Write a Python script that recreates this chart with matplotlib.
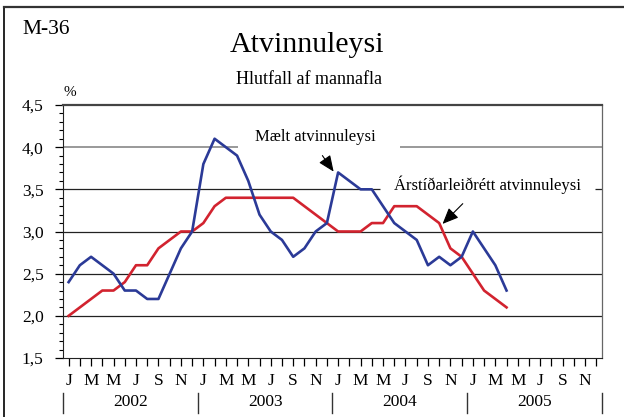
import matplotlib
matplotlib.use("Agg")
import matplotlib.pyplot as plt
from matplotlib.lines import Line2D
from matplotlib.transforms import blended_transform_factory

plt.rcParams["font.family"] = ["Liberation Serif", "DejaVu Serif"]

# Monthly values, Jan 2002 - Apr 2005
measured = [2.4, 2.6, 2.7, 2.6, 2.5, 2.3, 2.3, 2.2, 2.2, 2.5, 2.8, 3.0,
            3.8, 4.1, 4.0, 3.9, 3.6, 3.2, 3.0, 2.9, 2.7, 2.8, 3.0, 3.1,
            3.7, 3.6, 3.5, 3.5, 3.3, 3.1, 3.0, 2.9, 2.6, 2.7, 2.6, 2.7,
            3.0, 2.8, 2.6, 2.3]
adjusted = [2.0, 2.1, 2.2, 2.3, 2.3, 2.4, 2.6, 2.6, 2.8, 2.9, 3.0, 3.0,
            3.1, 3.3, 3.4, 3.4, 3.4, 3.4, 3.4, 3.4, 3.4, 3.3, 3.2, 3.1,
            3.0, 3.0, 3.0, 3.1, 3.1, 3.3, 3.3, 3.3, 3.2, 3.1, 2.8, 2.7,
            2.5, 2.3, 2.2, 2.1]
years = ["2002", "2003", "2004", "2005"]
month_letters = ["J", "", "M", "", "M", "", "J", "", "S", "", "N", ""]
y_ticks = [1.5, 2.0, 2.5, 3.0, 3.5, 4.0, 4.5]
y_labels = ["1,5", "2,0", "2,5", "3,0", "3,5", "4,0", "4,5"]

BLUE = "#2b3a97"
RED = "#d2232f"

fig = plt.figure(figsize=(6.24, 4.17), dpi=100)
ax = fig.add_axes([63 / 624, 1 - 358 / 417, (602 - 63) / 624, (358 - 105) / 417])

# figure frame (left and top edges only)
fig.add_artist(Line2D([4 / 624, 4 / 624], [0, 1 - 7 / 417], color="black", lw=1.2))
fig.add_artist(Line2D([4 / 624, 1], [1 - 7 / 417, 1 - 7 / 417], color="#333333", lw=1.6))

n_months = 12 * len(years)
ax.set_xlim(-0.5, n_months - 0.5)
ax.set_ylim(1.5, 4.5)

# horizontal grid lines, broken where the labels sit
ax.hlines([2.0, 2.5, 3.0], -0.5, n_months - 0.5, color="#222222", lw=0.9, zorder=1)
ax.hlines(3.5, -0.5, 27.7, color="#222222", lw=0.9, zorder=1)
ax.hlines(3.5, 46.9, n_months - 0.5, color="#222222", lw=0.9, zorder=1)
ax.hlines(4.0, -0.5, 15.1, color="#888888", lw=1.2, zorder=1)
ax.hlines(4.0, 29.5, n_months - 0.5, color="#888888", lw=1.2, zorder=1)

ax.plot(range(len(adjusted)), adjusted, color=RED, lw=1.9, zorder=3)
ax.plot(range(len(measured)), measured, color=BLUE, lw=1.9, zorder=4)

# spines
ax.spines["top"].set_color("#444444")
ax.spines["top"].set_linewidth(1.6)
ax.spines["right"].set_color("#666666")
ax.spines["right"].set_linewidth(0.9)
ax.spines["left"].set_color("#222222")
ax.spines["bottom"].set_color("#222222")

ax.set_yticks(y_ticks)
ax.set_yticklabels(y_labels)
ax.set_yticks([1.5 + 0.1 * i for i in range(31)], minor=True)
ax.tick_params(axis="y", which="major", length=6, width=0.9, pad=8, labelsize=12.5)
ax.tick_params(axis="y", which="minor", length=3, width=0.8)

ax.set_xticks(range(n_months))
ax.set_xticklabels(month_letters * len(years))
ax.tick_params(axis="x", length=6, width=0.9, pad=5, labelsize=12.5)

# year labels and separators
tr = blended_transform_factory(ax.transData, fig.transFigure)
for i, yr in enumerate(years):
    ax.text(12 * i + 5.5, 1 - 402 / 417, yr, transform=tr, ha="center", va="center",
            fontsize=12.5)
for i in range(len(years) + 1):
    ax.add_line(Line2D([12 * i - 0.5, 12 * i - 0.5], [1 - 393 / 417, 1 - 413 / 417],
                       transform=tr, color="#333333", lw=1.0, clip_on=False))

# annotations
arrow = dict(arrowstyle="-|>,head_length=0.7,head_width=0.3", color="black", lw=0.8,
             shrinkA=0, shrinkB=0, mutation_scale=14)
ax.text(21.96, 4.12, "Mælt atvinnuleysi", ha="center", va="center", fontsize=12)
ax.annotate("", xy=(23.6, 3.71), xytext=(22.6, 3.90), arrowprops=arrow)
ax.text(37.3, 3.55, "Árstíðarleiðrétt atvinnuleysi", ha="center", va="center", fontsize=12)
ax.annotate("", xy=(33.3, 3.09), xytext=(35.1, 3.33), arrowprops=arrow)

# titles
fig.text(22 / 624, 1 - 30 / 417, "M-36", ha="left", va="center", fontsize=15.5)
fig.text(307 / 624, 1 - 45 / 417, "Atvinnuleysi", ha="center", va="center", fontsize=21.5)
fig.text(309 / 624, 1 - 80 / 417, "Hlutfall af mannafla", ha="center", va="center", fontsize=13)
fig.text(70 / 624, 1 - 92 / 417, "%", ha="center", va="center", fontsize=11)

fig.savefig("out.png", dpi=100)
